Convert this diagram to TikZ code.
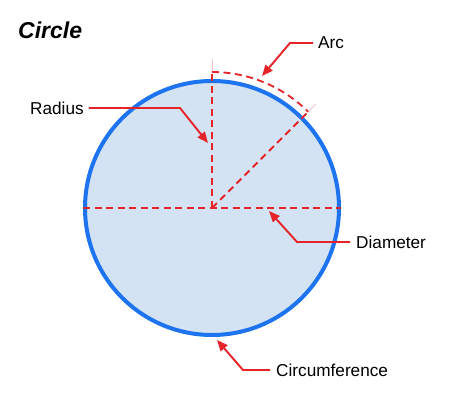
\documentclass[tikz,border=0pt]{standalone}
\usepackage{fontspec}
\setmainfont{Liberation Sans}
\usetikzlibrary{arrows.meta,calc}
\definecolor{cblue}{HTML}{1E74F0}
\definecolor{cfill}{HTML}{D4E3F4}
\definecolor{cred}{HTML}{E52329}
\definecolor{cpink}{HTML}{F4C6C8}
\begin{document}
\begin{tikzpicture}[x=1pt,y=1pt,
  lbl/.style={anchor=west,inner sep=0pt,font=\fontsize{17.2}{19}\selectfont},
  ptr/.style={draw=cred,line width=1.9pt,-{Triangle[length=11pt,width=9pt]}},
  dashline/.style={draw=cred,line width=1.8pt,dash pattern=on 7pt off 4.5pt},
  ext/.style={draw=cpink,line width=0.8pt}]
\useasboundingbox (0,0) rectangle (450,404);
\fill[white] (0,0) rectangle (450,404);
\node[circle,draw=cblue,fill=cfill,line width=4pt,minimum size=254pt,inner sep=0pt] (c) at (212,196) {};
\coordinate (o) at (212,196);
\coordinate (top) at (212,332);
\coordinate (topx) at (212,345);
\coordinate (arcend) at ($(o)+(45:136)$);
\coordinate (arcendx) at ($(o)+(45:147)$);
% construction lines
\draw[ext] (top) -- (topx);
\draw[ext] (arcend) -- (arcendx);
\draw[dashline] (c.west) -- (c.east);
\draw[dashline] (o) -- (top);
\draw[dashline] (o) -- (arcend);
\draw[dashline] (top) arc (90:45:136);
% title
\node[anchor=west,inner sep=0pt,font=\fontsize{23}{26}\selectfont\bfseries\itshape] (title) at (18,374) {Circle};
% labels
\node[lbl] (arc) at (318,361) {Arc};
\node[lbl] (rad) at (30,296) {Radius};
\node[lbl] (dia) at (356,162) {Diameter};
\node[lbl] (circ) at (276,34) {Circumference};
% pointer coordinates
\coordinate (arcb) at (290,361);
\coordinate (arct) at (262,328);
\coordinate (radb) at (180,296);
\coordinate (radt) at (208,261);
\coordinate (diab) at (297,162);
\coordinate (diat) at (269,193);
\coordinate (circb) at (243,34);
\coordinate (circt) at (217,64);
\draw[ptr] ([xshift=-5pt]arc.west) -- (arcb) -- (arct);
\draw[ptr] ([xshift=5pt]rad.east) -- (radb) -- (radt);
\draw[ptr] ([xshift=-6pt]dia.west) -- (diab) -- (diat);
\draw[ptr] ([xshift=-6pt]circ.west) -- (circb) -- (circt);
\end{tikzpicture}
\end{document}
